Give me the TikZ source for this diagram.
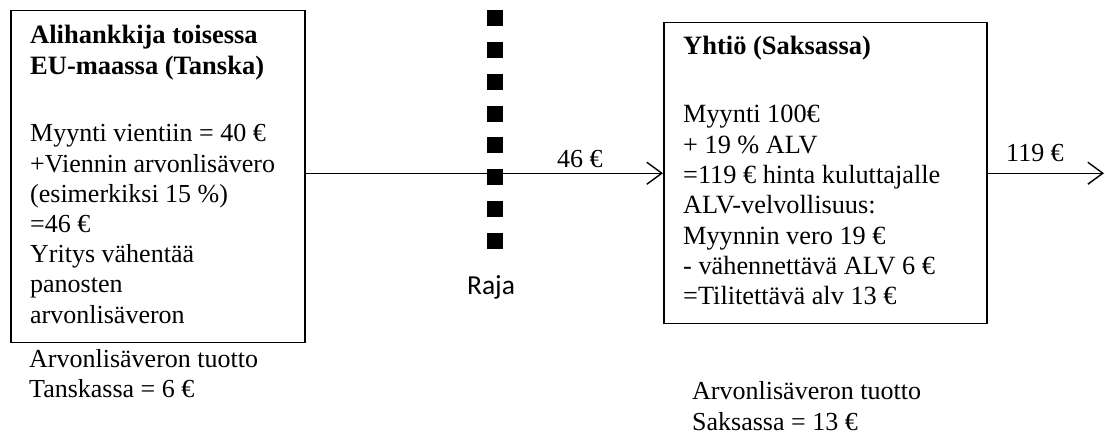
\documentclass[tikz,border=0pt]{standalone}
\usepackage{fontspec}
\setmainfont{Liberation Serif}
\newfontfamily\rajafont{Carlito}
\usetikzlibrary{arrows.meta}
\begin{document}
\begin{tikzpicture}[x=1pt,y=-1pt,
  box/.style={draw,line width=1.5pt,inner sep=0pt,anchor=north west},
  txt/.style={inner sep=0pt,anchor=base west,font=\fontsize{26}{30}\selectfont},
  flow/.style={line width=1.4pt,-{Straight Barb[length=15pt,width=22pt,line width=1.4pt]}},
  border/.style={line width=16pt,dash pattern=on 16pt off 15.86pt}]
\useasboundingbox (0,0) rectangle (1105,435);
\fill[white] (0,0) rectangle (1105,435);

% Danish subcontractor
\node[box,minimum width=294pt,minimum height=332pt] (dk) at (10,10) {};
\node[txt] (dktitle) at (30,44) {\parbox[t]{270pt}{\fontsize{26.5}{31}\selectfont\bfseries
  Alihankkija toisessa\\EU-maassa (Tanska)}};
\node[txt] (dkbody) at (30,142) {\parbox[t]{290pt}{\fontsize{26}{30.2}\selectfont
  Myynti vientiin = 40 €\\
  +Viennin arvonlisävero\\
  (esimerkiksi 15 \%)\\
  =46 €\\
  Yritys vähentää\\
  panosten\\
  arvonlisäveron}};
\node[txt] (dkyield) at (29,367) {\parbox[t]{290pt}{\fontsize{26}{30}\selectfont
  Arvonlisäveron tuotto\\Tanskassa = 6 €}};

% German company
\node[box,minimum width=323pt,minimum height=301pt] (de) at (663,22) {};
\node[txt,font=\fontsize{26.5}{30}\selectfont] (detitle) at (683,55) {\bfseries Yhtiö (Saksassa)};
\node[txt] (debody) at (683,123) {\parbox[t]{300pt}{\fontsize{26.3}{30.3}\selectfont
  Myynti 100€\\
  + 19 \% ALV\\
  =119 € hinta kuluttajalle\\
  ALV-velvollisuus:\\
  Myynnin vero 19 €\\
  - vähennettävä ALV 6 €\\
  =Tilitettävä alv 13 €}};
\node[txt] (deyield) at (692,399) {\parbox[t]{290pt}{\fontsize{26}{31}\selectfont
  Arvonlisäveron tuotto\\Saksassa = 13 €}};

% border between the countries
\coordinate (btop) at (495,10);
\coordinate (bbot) at (495,250);
\draw[border] (btop) -- (bbot);
\node[inner sep=0pt,anchor=base,font=\rajafont\fontsize{27.5}{30}\selectfont] (raja) at (491,295) {Raja};

% money flows
\coordinate (consumer) at (1104,0 |- de.east);
\draw[flow] (dk.east |- de.west) -- (de.west);
\draw[flow] (de.east) -- (consumer);
\node[txt] (p46) at (557,168) {46 €};
\node[txt] (p119) at (1006,162) {119 €};
\end{tikzpicture}
\end{document}
